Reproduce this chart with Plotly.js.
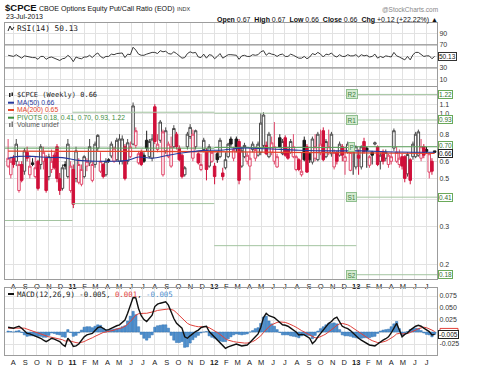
<!DOCTYPE html>
<html><head><meta charset="utf-8">
<script src="https://cdn.plot.ly/plotly-3.0.1.min.js"></script>
<style>html,body{margin:0;padding:0;background:#fff}#chart{width:480px;height:372px}</style>
</head><body><div id="chart"></div>
<script>
// ---- data (weekly bars, first bar week of 2010-07-19) ----
const openP = [0.57,0.52,0.62,0.60,0.44,0.58,0.54,0.66,0.52,0.59,
0.51,0.60,0.58,0.60,0.62,0.51,0.55,0.64,0.70,0.50,
0.45,0.58,0.51,0.44,0.55,0.50,0.48,0.47,0.51,0.57,
0.59,0.49,0.58,0.69,0.54,0.58,0.52,0.61,0.635,0.60,
0.61,0.60,0.60,0.70,0.60,0.63,0.72,0.71,0.59,0.66,
0.64,0.75,0.63,0.62,1.07,0.68,0.75,0.52,0.67,0.63,
0.57,0.70,0.80,0.69,0.64,0.52,0.70,0.78,0.62,0.70,
0.65,0.55,0.68,0.67,0.57,0.60,0.57,0.65,0.63,0.53,
0.56,0.63,0.76,0.62,0.76,0.74,0.57,0.63,0.60,0.57,
0.68,0.62,0.64,0.66,0.71,0.71,0.63,0.66,0.60,0.565,
0.77,0.65,0.77,0.68,0.66,0.63,0.55,0.61,0.52,0.75,
0.70,0.65,0.595,0.62,0.61,0.66,0.83,0.63,0.66,0.65,
0.565,0.66,0.64,0.70,0.60,0.66,0.545,0.67,0.565,0.64,
0.565,0.74,0.69,0.575,0.66,0.72,0.70,0.60,0.66,0.62,
0.58,0.60,0.69,0.60,0.58,0.63,0.63,0.525,0.61,0.63,
0.63,0.64,0.62,0.70,0.68,0.535,0.60,0.67];
const highP = [0.76,0.63,0.64,0.76,0.60,0.60,0.69,0.70,0.64,0.62,
0.63,0.61,0.72,0.70,0.64,0.65,0.68,0.66,0.72,0.53,
0.58,0.60,0.76,0.60,0.58,0.70,0.62,0.58,0.64,0.62,
0.76,0.60,0.74,0.80,0.66,0.59,0.62,0.62,0.74,0.70,
0.77,0.80,0.79,0.72,0.76,0.74,1.12,0.86,0.67,0.68,
0.66,0.83,0.76,0.80,1.10,0.80,0.93,0.84,0.86,0.74,
0.78,0.88,0.82,0.71,0.65,0.57,0.82,0.89,0.84,0.84,
0.66,0.65,0.77,0.69,0.72,0.67,0.59,0.67,0.77,0.56,
0.66,0.73,0.78,0.70,0.78,0.76,0.70,0.73,0.66,0.69,
0.74,0.70,0.74,1.00,1.01,0.74,0.82,0.78,0.91,0.65,
0.80,0.76,0.79,0.70,0.76,0.80,0.64,0.62,0.66,0.78,
0.72,0.66,0.78,0.80,0.82,0.84,0.86,0.76,0.84,0.82,
0.68,0.67,0.74,0.72,0.70,0.74,0.68,0.68,0.71,0.68,
0.71,0.77,0.70,0.64,0.67,0.74,0.71,0.66,0.68,0.68,
0.65,0.66,0.85,0.70,0.68,0.65,0.64,0.66,0.62,0.74,
0.82,0.84,0.76,0.72,0.70,0.66,0.62,0.67];
const lowP = [0.56,0.50,0.56,0.57,0.43,0.48,0.52,0.60,0.50,0.57,
0.50,0.44,0.55,0.55,0.43,0.49,0.53,0.55,0.48,0.42,
0.44,0.55,0.50,0.43,0.365,0.48,0.47,0.46,0.50,0.54,
0.57,0.48,0.56,0.67,0.53,0.50,0.51,0.59,0.62,0.59,
0.60,0.58,0.58,0.49,0.58,0.62,0.71,0.69,0.58,0.57,
0.59,0.67,0.62,0.60,0.72,0.66,0.73,0.51,0.65,0.62,
0.56,0.69,0.68,0.60,0.50,0.51,0.68,0.76,0.60,0.68,
0.58,0.54,0.66,0.49,0.56,0.59,0.47,0.59,0.62,0.49,
0.55,0.62,0.70,0.60,0.66,0.47,0.56,0.62,0.58,0.49,
0.66,0.60,0.63,0.64,0.69,0.64,0.62,0.64,0.58,0.56,
0.69,0.64,0.63,0.61,0.65,0.62,0.54,0.54,0.51,0.60,
0.53,0.59,0.58,0.60,0.60,0.64,0.60,0.62,0.64,0.63,
0.55,0.58,0.63,0.60,0.52,0.65,0.54,0.52,0.55,0.52,
0.55,0.65,0.56,0.56,0.58,0.71,0.57,0.55,0.58,0.60,
0.56,0.58,0.67,0.59,0.56,0.55,0.48,0.51,0.47,0.61,
0.62,0.63,0.60,0.62,0.65,0.50,0.52,0.66];
const closeP = [0.62,0.60,0.58,0.72,0.58,0.49,0.67,0.62,0.57,0.58,
0.56,0.45,0.70,0.66,0.44,0.63,0.60,0.56,0.50,0.44,
0.56,0.57,0.72,0.57,0.38,0.67,0.58,0.55,0.63,0.60,
0.70,0.58,0.72,0.79,0.60,0.51,0.60,0.605,0.72,0.69,
0.75,0.76,0.76,0.50,0.73,0.70,1.08,0.83,0.65,0.58,
0.60,0.69,0.74,0.76,0.74,0.72,0.91,0.82,0.83,0.72,
0.70,0.85,0.70,0.61,0.51,0.56,0.80,0.86,0.80,0.83,
0.59,0.58,0.75,0.55,0.70,0.66,0.51,0.61,0.75,0.51,
0.61,0.72,0.72,0.68,0.70,0.49,0.67,0.71,0.64,0.62,
0.72,0.68,0.72,0.90,0.98,0.65,0.80,0.73,0.70,0.63,
0.70,0.74,0.64,0.62,0.74,0.70,0.63,0.55,0.54,0.61,
0.535,0.61,0.76,0.70,0.80,0.72,0.61,0.74,0.70,0.80,
0.66,0.60,0.72,0.64,0.63,0.72,0.66,0.665,0.70,0.62,
0.70,0.665,0.675,0.63,0.64,0.73,0.58,0.64,0.60,0.66,
0.64,0.63,0.83,0.66,0.62,0.57,0.50,0.645,0.49,0.72,
0.80,0.82,0.70,0.64,0.665,0.65,0.54,0.66];
const rsi14 = [52,51,50,53,50,47,51,50,48,48,48,
45,50,50,45,48,49,47,45,43,46,47,
52,48,41,49,47,46,49,49,52,48,53,
56,50,47,50,50,54,53,55,56,56,48,54,53,
66,61,54,52,52,54,56,57,57,55,60,
58,59,55,54,58,55,51,47,48,55,58,
56,57,49,48,54,47,53,52,46,50,55,
47,50,53,53,52,52,45,51,52,50,50,
53,52,53,58,60,52,56,54,53,50,53,
54,50,50,54,52,50,47,47,50,46,49,
55,53,57,54,49,54,53,56,51,49,53,
50,50,53,51,51,53,49,53,51,52,49,
50,54,47,50,48,51,50,49,57,51,49,47,
44,50,44,53,57,57,53,50,51,51,46,50.13];
const macdLine = [0.010,0.009,0.008,0.010,0.012,0.008,0.002,-0.003,-0.004,-0.006,
-0.008,-0.011,-0.013,-0.017,-0.020,-0.017,-0.013,-0.015,-0.018,-0.020,
-0.026,-0.030,-0.013,-0.020,-0.030,-0.029,-0.025,-0.018,-0.010,-0.006,
-0.004,-0.003,0.003,0.009,0.011,0.007,0.004,0.005,0.008,0.010,
0.013,0.015,0.020,0.025,0.039,0.055,0.072,0.071,0.049,0.034,
0.026,0.022,0.028,0.035,0.053,0.058,0.060,0.062,0.063,0.056,
0.040,0.028,0.018,0.012,0.008,-0.010,-0.013,-0.008,-0.003,0.001,
0.004,0.009,0.011,0.012,0.001,-0.005,-0.010,-0.017,-0.024,-0.030,
-0.034,-0.031,-0.029,-0.026,-0.025,-0.027,-0.029,-0.028,-0.027,-0.022,
-0.017,-0.010,-0.004,0.010,0.030,0.039,0.034,0.032,0.030,0.025,
0.020,0.015,0.014,0.012,0.008,0.004,0.000,-0.006,-0.005,-0.006,
-0.010,-0.013,-0.024,-0.019,-0.010,-0.003,0.004,0.011,0.018,0.022,
0.028,0.031,0.022,0.012,0.009,0.007,0.003,-0.003,-0.008,-0.013,
-0.017,-0.020,-0.024,-0.027,-0.028,-0.029,-0.025,-0.020,-0.017,-0.014,
-0.010,-0.002,0.008,0.018,0.004,-0.010,-0.005,-0.002,0.004,0.008,
0.012,0.014,0.012,0.008,0.004,0.001,-0.006,-0.005];
const signalLine = [0.008,0.008,0.008,0.008,0.009,0.009,0.008,0.006,0.004,0.002,
0.000,-0.002,-0.004,-0.006,-0.009,-0.010,-0.011,-0.012,-0.013,-0.014,
-0.016,-0.019,-0.018,-0.019,-0.021,-0.022,-0.023,-0.022,-0.020,-0.017,
-0.015,-0.012,-0.009,-0.006,-0.003,-0.001,0.000,0.001,0.003,0.004,
0.006,0.007,0.009,0.012,0.016,0.022,0.029,0.035,0.038,0.039,
0.039,0.039,0.040,0.041,0.043,0.045,0.046,0.047,0.048,0.048,
0.047,0.045,0.040,0.034,0.028,0.022,0.018,0.015,0.013,0.012,
0.011,0.011,0.011,0.011,0.009,0.006,0.003,-0.001,-0.005,-0.010,
-0.014,-0.017,-0.019,-0.020,-0.021,-0.022,-0.023,-0.023,-0.023,-0.022,
-0.020,-0.017,-0.013,-0.008,-0.001,0.006,0.011,0.015,0.018,0.020,
0.021,0.021,0.020,0.018,0.016,0.013,0.010,0.006,0.003,0.000,
-0.003,-0.006,-0.010,-0.012,-0.012,-0.010,-0.007,-0.004,0.000,0.004,
0.009,0.014,0.017,0.018,0.017,0.015,0.012,0.008,0.004,0.000,
-0.004,-0.008,-0.012,-0.015,-0.018,-0.020,-0.022,-0.022,-0.021,-0.019,
-0.016,-0.013,-0.009,-0.004,-0.003,-0.004,-0.004,-0.003,-0.001,0.001,
0.004,0.007,0.009,0.010,0.009,0.007,0.004,0.001];
const macdHist = [0.002,0.001,0.000,0.002,0.003,-0.001,-0.006,-0.009,-0.008,-0.008,
-0.008,-0.009,-0.009,-0.011,-0.011,-0.007,-0.002,-0.003,-0.005,-0.006,
-0.010,-0.011,0.005,-0.001,-0.009,-0.007,-0.002,0.004,0.010,0.011,
0.011,0.009,0.012,0.015,0.014,0.008,0.004,0.004,0.005,0.006,
0.007,0.008,0.011,0.013,0.023,0.033,0.043,0.036,0.011,-0.005,
-0.013,-0.017,-0.012,-0.006,0.010,0.013,0.014,0.015,0.015,0.008,
-0.007,-0.017,-0.022,-0.022,-0.020,-0.032,-0.031,-0.023,-0.016,-0.011,
-0.007,-0.002,0.000,0.001,-0.008,-0.011,-0.013,-0.016,-0.019,-0.020,
-0.020,-0.014,-0.010,-0.006,-0.004,-0.005,-0.006,-0.005,-0.004,0.000,
0.003,0.007,0.009,0.018,0.031,0.033,0.023,0.017,0.012,0.005,
-0.001,-0.006,-0.006,-0.006,-0.008,-0.009,-0.010,-0.012,-0.008,-0.006,
-0.007,-0.007,-0.014,-0.007,0.002,0.007,0.011,0.015,0.018,0.018,
0.019,0.017,0.005,-0.006,-0.008,-0.008,-0.009,-0.011,-0.012,-0.013,
-0.013,-0.012,-0.012,-0.012,-0.010,-0.009,-0.003,0.002,0.004,0.005,
0.006,0.011,0.017,0.022,0.007,-0.006,-0.001,0.001,0.005,0.007,
0.008,0.007,0.003,-0.002,-0.005,-0.006,-0.010,-0.005];
const ma50Dates = ['2010-07-19','2010-08-16','2010-09-20','2010-11-01','2010-12-06','2011-01-17','2011-03-07','2011-04-18','2011-05-23','2011-06-20','2011-07-25','2011-09-05','2011-10-24','2011-12-05','2012-01-16','2012-03-12','2012-05-14','2012-08-06','2012-11-05','2013-01-14','2013-04-22','2013-07-22'];
const ma50Vals = [0.62,0.632,0.632,0.625,0.624,0.606,0.60,0.60,0.606,0.628,0.62,0.64,0.66,0.674,0.675,0.69,0.685,0.675,0.67,0.67,0.662,0.66];
const ma200Dates = ['2010-07-19','2011-01-03','2011-07-04','2012-01-02','2012-07-02','2013-01-07','2013-07-22'];
const ma200Vals = [0.668,0.667,0.666,0.664,0.66,0.656,0.652];
const pivotStart = ['2010-07-11','2011-01-01','2012-01-01','2013-01-01'];
const pivotEnd   = ['2011-01-01','2012-01-01','2013-01-01','2013-07-28'];
const pivotP  = [0.69, 0.69, 0.695, 0.70];
const pivotR1 = [null, 1.01, 1.00, 0.93];
const pivotR2 = [null, null, null, 1.22];
const pivotS1 = [0.32, 0.383, 0.245, 0.41];
const pivotS2 = [null, null, null, 0.18];
const monthLabels = ['A','S','O','N','D','<b>11</b>','F','M','A','M','J','J','A','S','O','N','D','<b>12</b>','F','M','A','M','J','J','A','S','O','N','D','<b>13</b>','F','M','A','M','J','J'];

// ---- build ----
const DAY = 864e5;
const dates = closeP.map((_, i) => new Date(Date.UTC(2010, 6, 19) + i * 7 * DAY).toISOString().slice(0, 10));
const monthTicks = monthLabels.map((_, k) => new Date(Date.UTC(2010, 7 + k, 1)).toISOString().slice(0, 10));
const xr = ['2010-07-11', '2013-07-28'];
const W = 480, H = 372;
const px = x => x / W, py = y => 1 - y / H;

const isUp = closeP.map((c, i) => i > 0 && c >= closeP[i - 1]);
function candles(flag, hollowCol, fillCol) {
  const idx = closeP.map((_, i) => i).filter(i => isUp[i] === flag);
  return {type: 'candlestick', xaxis: 'x2', yaxis: 'y2', hoverinfo: 'skip',
    x: idx.map(i => dates[i]), open: idx.map(i => openP[i]), high: idx.map(i => highP[i]),
    low: idx.map(i => lowP[i]), close: idx.map(i => closeP[i]), whiskerwidth: 0,
    increasing: {line: {color: hollowCol, width: 1}, fillcolor: '#ffffff'},
    decreasing: {line: {color: fillCol, width: 1}, fillcolor: fillCol}};
}
function pivotTrace(vals, color, width) {
  const x = [], y = [];
  vals.forEach((v, k) => { if (v !== null) { x.push(pivotStart[k], pivotEnd[k], null); y.push(v, v, null); } });
  return {type: 'scatter', mode: 'lines', xaxis: 'x2', yaxis: 'y2', x, y, hoverinfo: 'skip',
    line: {color, width}, connectgaps: false};
}
const pivGray = '#a3c4a0', pivGreen = '#5aa05a';
const traces = [
  {type: 'scatter', mode: 'lines', x: dates, y: rsi14, xaxis: 'x', yaxis: 'y', line: {color: '#3a3a3a', width: 1}, hoverinfo: 'skip'},
  pivotTrace(pivotR2, pivGray, 1), pivotTrace(pivotR1, pivGray, 1), pivotTrace(pivotS1, pivGray, 1), pivotTrace(pivotS2, pivGray, 1),
  pivotTrace(pivotP, pivGreen, 1),
  candles(true, '#4a4a4a', '#1a1a1a'),
  candles(false, '#e0476a', '#d0103a'),
  {type: 'scatter', mode: 'lines', x: ma200Dates, y: ma200Vals, xaxis: 'x2', yaxis: 'y2', line: {color: '#e4452a', width: 1.3, shape: 'spline'}, hoverinfo: 'skip'},
  {type: 'scatter', mode: 'lines', x: ma50Dates, y: ma50Vals, xaxis: 'x2', yaxis: 'y2', line: {color: '#26399c', width: 1.1, shape: 'spline'}, hoverinfo: 'skip'},
  {type: 'bar', x: dates, y: macdHist, xaxis: 'x3', yaxis: 'y3', width: 6 * DAY, marker: {color: '#4f90cf', line: {color: '#2f70b0', width: 0.5}}, hoverinfo: 'skip'},
  {type: 'scatter', mode: 'lines', x: dates, y: signalLine, xaxis: 'x3', yaxis: 'y3', line: {color: '#e0403a', width: 1}, hoverinfo: 'skip'},
  {type: 'scatter', mode: 'lines', x: dates, y: macdLine, xaxis: 'x3', yaxis: 'y3', line: {color: '#111', width: 1.4}, hoverinfo: 'skip'}
];

const grid = '#e2e2e2', frame = '#9c9c9c';
const FONT = 'Liberation Sans, Arial, sans-serif';
const MONO = 'DejaVu Sans Mono, monospace';
function xax(anchor, labels) {
  return {type: 'date', domain: [px(5), px(437)], range: xr, anchor, tickvals: monthTicks, ticktext: monthLabels,
    showticklabels: labels, ticks: '', showgrid: true, gridcolor: grid, gridwidth: 1, showline: true, mirror: true,
    linecolor: frame, linewidth: 1, zeroline: false, tickfont: {size: 7.5, color: '#222', family: FONT},
    rangeslider: {visible: false}, fixedrange: true};
}
const yCommon = {side: 'right', ticks: '', showgrid: true, gridcolor: grid, gridwidth: 1, showline: true, mirror: true,
  linecolor: frame, linewidth: 1, zeroline: false, tickfont: {size: 7, color: '#333', family: FONT}, fixedrange: true};

const ann = [];
function txt(x, y, text, size, opts = {}) {
  ann.push(Object.assign({xref: 'paper', yref: 'paper', x: px(x), y: py(y), text, showarrow: false,
    xanchor: 'left', yanchor: 'middle', font: {size, color: '#111', family: FONT}}, opts));
}
// header
txt(3, 8, '<b>$CPCE</b>', 9.5, {font: {size: 9.5, color: '#111', family: FONT}});
txt(37, 9, 'CBOE Options Equity Put/Call Ratio (EOD)', 7.1);
txt(175, 9, 'INDX', 5.5, {font: {size: 5.5, color: '#333', family: FONT}});
txt(4, 17, '23-Jul-2013', 7);
txt(440, 10, '@StockCharts.com', 6.5, {xanchor: 'right', font: {size: 6.5, color: '#888', family: FONT}});
txt(440, 20, '<b>Open</b> 0.67  <b>High</b> 0.67  <b>Low</b> 0.66  <b>Close</b> 0.66  <b>Chg</b> +0.12 (+22.22%) ▲', 7, {xanchor: 'right'});
// panel legends
txt(15, 28, 'RSI(14) 50.13', 7.8, {font: {size: 7.8, color: '#222', family: MONO}});
txt(15, 95, '$CPCE (Weekly) 0.66', 7, {font: {size: 7, color: '#222', family: MONO}});
txt(15, 102.7, 'MA(50) 0.66', 6.8, {font: {size: 6.8, color: '#26399c', family: FONT}});
txt(15, 110, 'MA(200) 0.65', 6.8, {font: {size: 6.8, color: '#e4452a', family: FONT}});
txt(15, 117.7, 'PIVOTS 0.18, 0.41, 0.70, 0.93, 1.22', 6.8, {font: {size: 6.8, color: '#3f8f3f', family: FONT}});
txt(15, 124.3, 'Volume undef', 6.8, {font: {size: 6.8, color: '#555', family: FONT}});
txt(15, 294, 'MACD(12,26,9) -0.005, <span style="color:#e0403a">0.001</span>, <span style="color:#4f90cf">-0.005</span>', 7.4, {font: {size: 7.4, color: '#222', family: MONO}});

// value boxes on the right
function vbox(yref, y, text, border, color, shiftY = 0) {
  ann.push({xref: 'paper', yref, x: px(438), y, yshift: shiftY, text, showarrow: false, xanchor: 'left', yanchor: 'middle',
    font: {size: 6.5, color, family: FONT}, bgcolor: '#ffffff', bordercolor: border, borderwidth: 1, borderpad: 0});
}
const shapes = [
  {type: 'line', xref: 'x domain', yref: 'y', x0: 0, x1: 1, y0: 70, y1: 70, line: {color: '#808080', width: 1}},
  {type: 'line', xref: 'x domain', yref: 'y', x0: 0, x1: 1, y0: 30, y1: 30, line: {color: '#808080', width: 1}},
];
// coloured boxes peeking behind the current-value tags (MA200 in the price panel, signal in MACD)
shapes.push({type: 'rect', xref: 'paper', yref: 'y2', x0: px(440), x1: px(458), y0: Math.log10(0.628), y1: Math.log10(0.668), line: {color: '#e4452a', width: 1}, fillcolor: '#fff', layer: 'above'});
shapes.push({type: 'rect', xref: 'paper', yref: 'y3', x0: px(440), x1: px(458), y0: -0.002, y1: 0.0075, line: {color: '#e0403a', width: 1}, fillcolor: '#fff', layer: 'above'});

vbox('y', 50.13, '50.13', '#333', '#111');
const green = '#6aaa5a';
[[1.22, '1.22', 0], [0.93, '0.93', 0], [0.70, '0.70', 1], [0.41, '0.41', 0], [0.18, '0.18', 0]].forEach(([v, t, s]) => vbox('y2', Math.log10(v), t, green, '#2f6f2f', s));
vbox('y2', Math.log10(0.66), '0.66', '#222', '#111', -1.5);
vbox('y3', -0.005, '-0.005', '#222', '#111');
// pivot tags
[['R2', 1.22], ['R1', 0.93], ['P', 0.70], ['S1', 0.41], ['S2', 0.18]].forEach(([t, v]) => {
  ann.push({xref: 'x2', yref: 'y2', x: '2012-12-20', y: Math.log10(v), text: t, showarrow: false, xanchor: 'center', yanchor: 'middle',
    font: {size: 6.5, color: '#3f7f3f', family: FONT}, bgcolor: '#d4ead0', bordercolor: '#8fbf8f', borderwidth: 1, borderpad: 0.5});
});

function dash(y, color) { shapes.push({type: 'line', xref: 'paper', yref: 'paper', x0: px(8), x1: px(14), y0: py(y), y1: py(y), line: {color, width: 2}}); }
dash(102.7, '#26399c'); dash(110, '#e4452a'); dash(117.7, '#3f8f3f'); dash(294, '#111');
// small icons
shapes.push({type: 'rect', xref: 'paper', yref: 'paper', x0: px(9), x1: px(10.5), y0: py(97), y1: py(93), fillcolor: '#222', line: {width: 0}});
shapes.push({type: 'rect', xref: 'paper', yref: 'paper', x0: px(11.5), x1: px(13), y0: py(96), y1: py(92.5), fillcolor: '#222', line: {width: 0}});
shapes.push({type: 'rect', xref: 'paper', yref: 'paper', x0: px(9), x1: px(10.5), y0: py(127), y1: py(123), fillcolor: '#777', line: {width: 0}});
shapes.push({type: 'rect', xref: 'paper', yref: 'paper', x0: px(11.5), x1: px(13), y0: py(127), y1: py(121.5), fillcolor: '#777', line: {width: 0}});
shapes.push({type: 'path', xref: 'paper', yref: 'paper', path: `M ${px(8)} ${py(31)} L ${px(10)} ${py(26)} L ${px(12)} ${py(30)} L ${px(14)} ${py(27)}`, line: {color: '#222', width: 1}});

const layout = {
  width: W, height: H, margin: {l: 0, r: 0, t: 0, b: 0}, paper_bgcolor: '#ffffff', plot_bgcolor: '#ffffff',
  showlegend: false, font: {family: FONT, size: 7.5, color: '#222'},
  boxmode: 'overlay', boxgap: 0.08, boxgroupgap: 0,
  xaxis: xax('y', false), xaxis2: xax('y2', true), xaxis3: xax('y3', true),
  yaxis: Object.assign({}, yCommon, {anchor: 'x', domain: [py(86), py(23)], range: [-1.3, 108], tickvals: [10, 30, 50, 70, 90], ticktext: ['10', '30', '', '70', '90']}),
  yaxis2: Object.assign({}, yCommon, {anchor: 'x2', domain: [py(279), py(87)], type: 'log', range: [Math.log10(0.172), Math.log10(1.32)],
    tickvals: [0.2, 0.3, 0.4, 0.5, 0.6, 0.7, 0.8, 0.9, 1.0, 1.1, 1.2], ticktext: ['0.2', '0.3', '', '0.5', '0.6', '', '0.8', '', '1.0', '1.1', '']}),
  yaxis3: Object.assign({}, yCommon, {anchor: 'x3', domain: [py(355), py(288)], range: [-0.0479, 0.0917],
    tickvals: [-0.025, 0, 0.025, 0.05, 0.075], ticktext: ['-0.025', '', '0.025', '0.050', '0.075']}),
  bargap: 0, annotations: ann, shapes
};
Plotly.newPlot('chart', traces, layout, {staticPlot: true, displayModeBar: false});
</script></body></html>
